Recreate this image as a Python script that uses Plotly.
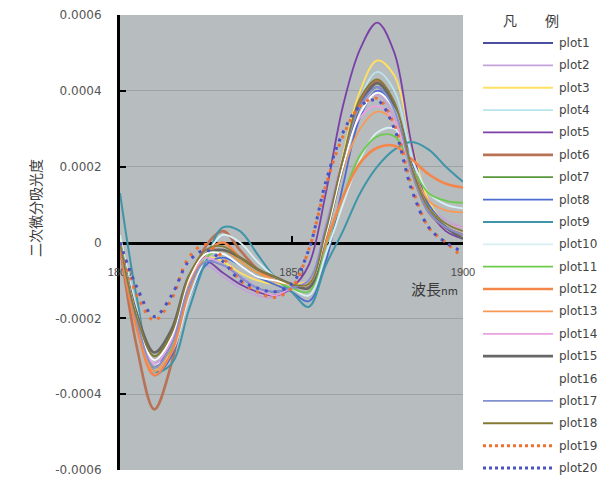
import plotly.graph_objects as go

# ---------------- data ----------------
wavelength = [1800, 1805, 1810, 1815, 1820, 1825, 1830, 1835, 1840, 1845, 1850,
              1855, 1860, 1865, 1870, 1875, 1880, 1885, 1890, 1895, 1900]

plot1 = [-0.2e-4, -2.2e-4, -3.2e-4, -2.6e-4, -1.2e-4, -0.5e-4, -0.6e-4, -0.9e-4, -1.2e-4, -1.3e-4, -1.2e-4,
         -1.1e-4, 0.3e-4, 2.1e-4, 3.6e-4, 4.1e-4, 3.5e-4, 1.9e-4, 0.9e-4, 0.5e-4, 0.3e-4]
plot2 = [-0.3e-4, -2.0e-4, -3.1e-4, -2.5e-4, -1.0e-4, -0.6e-4, -0.9e-4, -1.2e-4, -1.4e-4, -1.45e-4, -1.2e-4,
         -1.0e-4, 0.5e-4, 2.3e-4, 3.6e-4, 3.9e-4, 3.3e-4, 1.9e-4, 1.0e-4, 0.6e-4, 0.4e-4]
plot3 = [0.0, -2.1e-4, -3.3e-4, -2.7e-4, -1.2e-4, -0.4e-4, -0.5e-4, -0.8e-4, -1.0e-4, -1.1e-4, -1.1e-4,
         -1.0e-4, 0.3e-4, 2.3e-4, 4.0e-4, 4.8e-4, 4.4e-4, 2.6e-4, 1.1e-4, 0.5e-4, 0.3e-4]
plot4 = [0.1e-4, -2.0e-4, -3.2e-4, -2.6e-4, -1.1e-4, -0.3e-4, -0.3e-4, -0.6e-4, -0.9e-4, -1.0e-4, -1.1e-4,
         -1.1e-4, 0.2e-4, 2.2e-4, 3.8e-4, 4.5e-4, 4.0e-4, 2.3e-4, 1.0e-4, 0.5e-4, 0.4e-4]
plot5 = [0.0, -2.1e-4, -3.3e-4, -2.6e-4, -1.1e-4, -0.5e-4, -0.8e-4, -1.1e-4, -1.3e-4, -1.4e-4, -1.2e-4,
         -0.6e-4, 1.3e-4, 3.6e-4, 5.1e-4, 5.8e-4, 5.0e-4, 2.6e-4, 0.9e-4, 0.3e-4, 0.1e-4]
plot6 = [-0.1e-4, -2.8e-4, -4.4e-4, -3.2e-4, -1.2e-4, -0.1e-4, 0.3e-4, -0.2e-4, -0.7e-4, -1.0e-4, -1.1e-4,
         -1.1e-4, 0.2e-4, 2.1e-4, 3.7e-4, 4.25e-4, 3.6e-4, 1.9e-4, 0.8e-4, 0.4e-4, 0.2e-4]
plot7 = [0.0, -2.0e-4, -3.0e-4, -2.4e-4, -1.0e-4, -0.3e-4, -0.2e-4, -0.5e-4, -0.8e-4, -1.0e-4, -1.1e-4,
         -1.1e-4, 0.2e-4, 2.1e-4, 3.6e-4, 4.2e-4, 3.6e-4, 1.9e-4, 0.9e-4, 0.5e-4, 0.4e-4]
plot8 = [0.0, -2.2e-4, -3.5e-4, -3.0e-4, -1.5e-4, -0.6e-4, -0.4e-4, -0.6e-4, -0.9e-4, -1.1e-4, -1.3e-4,
         -1.55e-4, -0.5e-4, 1.5e-4, 3.3e-4, 4.0e-4, 3.6e-4, 2.1e-4, 1.0e-4, 0.5e-4, 0.3e-4]
plot9 = [1.3e-4, -1.5e-4, -3.4e-4, -3.2e-4, -1.8e-4, -0.5e-4, 0.4e-4, 0.3e-4, -0.3e-4, -0.9e-4, -1.3e-4,
         -1.7e-4, -0.6e-4, 0.3e-4, 1.3e-4, 2.0e-4, 2.45e-4, 2.65e-4, 2.45e-4, 2.0e-4, 1.6e-4]
plot10 = [0.2e-4, -1.8e-4, -3.2e-4, -2.9e-4, -1.5e-4, -0.4e-4, 0.2e-4, 0.0, -0.5e-4, -0.9e-4, -1.2e-4,
          -1.4e-4, -0.3e-4, 1.0e-4, 2.2e-4, 2.9e-4, 3.0e-4, 2.2e-4, 1.3e-4, 1.0e-4, 0.9e-4]
plot11 = [0.0, -2.0e-4, -3.3e-4, -2.8e-4, -1.3e-4, -0.4e-4, -0.2e-4, -0.5e-4, -0.8e-4, -1.0e-4, -1.2e-4,
          -1.3e-4, -0.1e-4, 1.2e-4, 2.3e-4, 2.8e-4, 2.8e-4, 2.0e-4, 1.3e-4, 1.1e-4, 1.05e-4]
plot12 = [-0.1e-4, -2.3e-4, -3.5e-4, -2.9e-4, -1.3e-4, -0.3e-4, 0.0, -0.4e-4, -0.7e-4, -1.0e-4, -1.1e-4,
          -1.1e-4, 0.0, 1.2e-4, 2.1e-4, 2.5e-4, 2.55e-4, 2.2e-4, 1.8e-4, 1.55e-4, 1.45e-4]
plot13 = [0.0, -2.1e-4, -3.4e-4, -2.7e-4, -1.1e-4, -0.3e-4, -0.2e-4, -0.5e-4, -0.8e-4, -1.0e-4, -1.1e-4,
          -1.1e-4, 0.2e-4, 1.9e-4, 3.0e-4, 3.45e-4, 3.2e-4, 2.0e-4, 1.1e-4, 0.85e-4, 0.8e-4]
plot14 = [0.0, -2.0e-4, -3.2e-4, -2.6e-4, -1.0e-4, -0.4e-4, -0.6e-4, -0.9e-4, -1.2e-4, -1.4e-4, -1.2e-4,
          -1.0e-4, 0.3e-4, 2.2e-4, 3.3e-4, 3.6e-4, 3.2e-4, 1.9e-4, 0.9e-4, 0.5e-4, 0.4e-4]
plot15 = [0.0, -1.9e-4, -2.9e-4, -2.3e-4, -0.9e-4, -0.3e-4, -0.2e-4, -0.4e-4, -0.7e-4, -0.9e-4, -1.1e-4,
          -1.2e-4, 0.2e-4, 2.0e-4, 3.6e-4, 4.2e-4, 3.6e-4, 2.0e-4, 0.9e-4, 0.4e-4, 0.1e-4]
plot16 = [0.0, -2.0e-4, -3.1e-4, -2.5e-4, -1.0e-4, -0.3e-4, -0.3e-4, -0.6e-4, -0.9e-4, -1.0e-4, -1.1e-4,
          -1.1e-4, 0.2e-4, 2.0e-4, 3.4e-4, 3.95e-4, 3.5e-4, 2.0e-4, 0.9e-4, 0.5e-4, 0.3e-4]
plot17 = [0.0, -2.1e-4, -3.3e-4, -2.7e-4, -1.2e-4, -0.5e-4, -0.6e-4, -0.9e-4, -1.2e-4, -1.3e-4, -1.2e-4,
          -1.0e-4, 0.4e-4, 2.2e-4, 3.6e-4, 4.1e-4, 3.5e-4, 1.9e-4, 0.8e-4, 0.4e-4, 0.2e-4]
plot18 = [0.0, -2.0e-4, -3.0e-4, -2.4e-4, -0.9e-4, -0.2e-4, -0.1e-4, -0.4e-4, -0.7e-4, -0.9e-4, -1.1e-4,
          -1.1e-4, 0.3e-4, 2.2e-4, 3.8e-4, 4.3e-4, 3.7e-4, 2.0e-4, 0.9e-4, 0.5e-4, 0.3e-4]
plot19 = [0.0, -1.4e-4, -2.05e-4, -1.5e-4, -0.4e-4, -0.05e-4, -0.4e-4, -1.0e-4, -1.3e-4, -1.45e-4, -1.2e-4,
          -0.2e-4, 1.5e-4, 2.8e-4, 3.6e-4, 3.8e-4, 3.1e-4, 1.5e-4, 0.4e-4, 0.0, -0.4e-4]
plot20 = [0.0, -1.2e-4, -1.95e-4, -1.4e-4, -0.5e-4, -0.2e-4, -0.5e-4, -1.0e-4, -1.2e-4, -1.3e-4, -1.1e-4,
          -0.2e-4, 1.6e-4, 2.9e-4, 3.6e-4, 3.75e-4, 3.0e-4, 1.4e-4, 0.4e-4, 0.0, -0.25e-4]

series_names = ["plot1", "plot2", "plot3", "plot4", "plot5", "plot6", "plot7", "plot8", "plot9", "plot10",
                "plot11", "plot12", "plot13", "plot14", "plot15", "plot16", "plot17", "plot18", "plot19", "plot20"]
series_values = [plot1, plot2, plot3, plot4, plot5, plot6, plot7, plot8, plot9, plot10,
                 plot11, plot12, plot13, plot14, plot15, plot16, plot17, plot18, plot19, plot20]

y_tick_values = [0.0006, 0.0004, 0.0002, 0, -0.0002, -0.0004, -0.0006]
y_tick_labels = ["0.0006", "0.0004", "0.0002", "0", "-0.0002", "-0.0004", "-0.0006"]
x_tick_values = [1800, 1850, 1900]
x_tick_labels = ["1800", "1850", "1900"]

# ---------------- styles ----------------
colors = ["#4a4e9e", "#c3a3da", "#ffe060", "#b8e6ec", "#7a40a8", "#b87256", "#5a983c", "#4c6cd0",
          "#3f95a8", "#d6eff3", "#6ccb4c", "#f5864a", "#f79a58", "#e8a2de", "#676767", "#ffffff",
          "#8291d2", "#857a35", "#f07030", "#4a52c4"]
widths = [1.8, 1.8, 1.8, 1.8, 1.8, 2.6, 1.8, 1.8, 2.0, 1.8,
          1.8, 2.6, 1.8, 1.8, 2.6, 1.8, 1.8, 1.8, 3.0, 3.0]
dashes = ["solid"] * 18 + ["3px,6px", "3px,6px"]

# page body has an 8px margin; figure is sized so it fits the 613x483 window
OFF = 8
W, H = 613 - OFF, 483 - OFF
PLOT_LEFT, PLOT_RIGHT, PLOT_TOP, PLOT_BOTTOM = 120, 463, 15, 470  # page pixels
L = PLOT_LEFT - OFF
T = PLOT_TOP - OFF
R = W - (PLOT_RIGHT - OFF)
B = H - (PLOT_BOTTOM - OFF)
PW, PH = W - L - R, H - T - B


def px(xpage):
    return (xpage - OFF - L) / PW


def py(ypage):
    return (T + PH - (ypage - OFF)) / PH


fig = go.Figure()
for name, vals, c, w, d in zip(series_names, series_values, colors, widths, dashes):
    fig.add_trace(go.Scatter(x=wavelength, y=vals, name=name, mode="lines",
                             line=dict(color=c, width=w, dash=d, shape="spline", smoothing=1.0),
                             showlegend=False, hoverinfo="skip"))

xtick_font = dict(family="Liberation Sans, Arial, sans-serif", size=11, color="#4a4a4a")
ytick_font = dict(family="DejaVu Sans, sans-serif", size=12, color="#555555")

fig.update_layout(
    width=W, height=H,
    margin=dict(l=L, r=R, t=T, b=B, autoexpand=False),
    paper_bgcolor="white",
    plot_bgcolor="#b7bcbf",
    xaxis=dict(range=[1800, 1900], tickvals=x_tick_values, ticktext=x_tick_labels,
               anchor="free", position=0.5, showline=True, linewidth=3, linecolor="black",
               ticks="inside", ticklen=6, tickwidth=2, tickcolor="black",
               showgrid=False, zeroline=False, tickfont=xtick_font, ticklabelstandoff=18,
               ticklabeloverflow="allow", layer="below traces", automargin=False),
    yaxis=dict(range=[-0.0006, 0.0006], tickvals=y_tick_values, ticktext=y_tick_labels,
               showline=True, linewidth=3, linecolor="black", mirror=False,
               ticks="inside", ticklen=6, tickwidth=2, tickcolor="black",
               showgrid=True, gridcolor="#9ea3a6", gridwidth=1,
               zeroline=False, tickfont=ytick_font, ticklabelstandoff=13,
               ticklabeloverflow="allow", layer="below traces", automargin=False),
    font=dict(family="Noto Sans CJK JP, Liberation Sans, sans-serif", color="#333"),
)

annotations = [
    dict(x=px(35), y=py(208), xref="paper", yref="paper", xanchor="center", yanchor="middle",
         text="二次微分吸光度", textangle=-90, showarrow=False,
         font=dict(size=14, color="#3a3a3a", family="Noto Sans CJK JP")),
    dict(x=px(409), y=py(288), xref="paper", yref="paper", xanchor="left", yanchor="middle",
         text="波長<span style='font-size:11px'>nm</span>", showarrow=False,
         font=dict(size=15, color="#3a3a3a", family="Noto Sans CJK JP")),
    dict(x=px(531), y=py(20), xref="paper", yref="paper", xanchor="center", yanchor="middle",
         text="凡　　例", showarrow=False,
         font=dict(size=14, color="#3a3a3a", family="Noto Sans CJK JP")),
]

shapes = []
first_y, last_y = 43, 468
step = (last_y - first_y) / (len(series_names) - 1)
for i, (name, c, w, d) in enumerate(zip(series_names, colors, widths, dashes)):
    yy = first_y + i * step
    shapes.append(dict(type="line", xref="paper", yref="paper",
                       x0=px(483), x1=px(553), y0=py(yy), y1=py(yy),
                       line=dict(color=c, width=w, dash="dot" if d != "solid" else "solid")))
    annotations.append(dict(x=px(557), y=py(yy), xref="paper", yref="paper",
                            xanchor="left", yanchor="middle", text=name, showarrow=False,
                            font=dict(size=12, color="#444444",
                                      family="DejaVu Sans, sans-serif")))

fig.update_layout(annotations=annotations, shapes=shapes)
fig.write_html("out.html")
